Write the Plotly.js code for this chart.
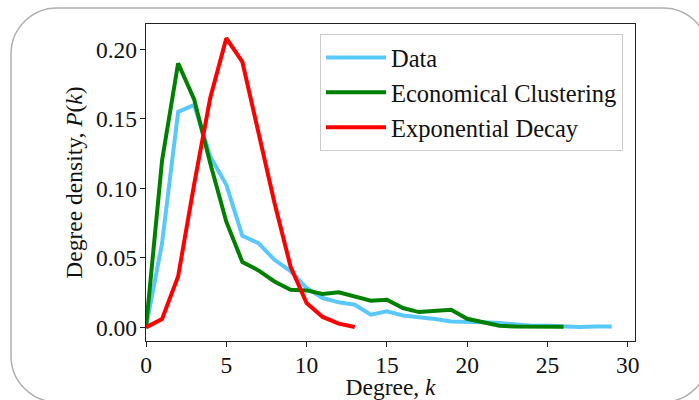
<!DOCTYPE html>
<html>
<head>
<meta charset="utf-8">
<script src="https://cdn.plot.ly/plotly-3.0.1.min.js"></script>
<style>
  html, body { margin: 0; padding: 0; background: #ffffff; }
  #chart { width: 699px; height: 400px; }
</style>
</head>
<body>
<div id="chart"></div>
<script>
// ---- data ----
const kData = [0,1,2,3,4,5,6,7,8,9,10,11,12,13,14,15,16,17,18,19,20,21,22,23,24,25,26,27,28,29];
const pData = [0, 0.0606, 0.155, 0.160, 0.123, 0.1025, 0.0659, 0.0606, 0.0486, 0.0405,
               0.0283, 0.0211, 0.018, 0.0163, 0.0091, 0.0115, 0.0086, 0.0075, 0.006, 0.0043,
               0.0043, 0.0036, 0.0031, 0.002, 0.0012, 0.0012, 0.0007, 0.0003, 0.0007, 0.0007];

const kEcon = [0,1,2,3,4,5,6,7,8,9,10,11,12,13,14,15,16,17,18,19,20,21,22,23,24,25,26];
const pEcon = [0, 0.120, 0.190, 0.164, 0.118, 0.076, 0.047, 0.041, 0.033, 0.027,
               0.0266, 0.024, 0.0252, 0.0223, 0.0192, 0.0199, 0.0139, 0.011, 0.0115, 0.0127,
               0.0062, 0.0036, 0.0012, 0.0006, 0.0004, 0.0004, 0.0005];

const kExp = [0,1,2,3,4,5,6,7,8,9,10,11,12,13];
const pExp = [0, 0.006, 0.0366, 0.103, 0.165, 0.208, 0.191, 0.139, 0.0896, 0.0438,
              0.0175, 0.0075, 0.0027, 0.0003];

const seriesNames = ["Data", "Economical Clustering", "Exponential Decay"];
const seriesColors = ["#5ac8fa", "#008000", "#ff0000"];

const xTitle = "Degree, <i>k</i>";
const yTitle = "Degree density, <i>P</i>(<i>k</i>)";

// ---- layout geometry ----
const W = 699, H = 400;
const M = { l: 146, r: 64, t: 24, b: 59 };
const PW = W - M.l - M.r, PH = H - M.t - M.b;
const px = v => (v - M.l) / PW;
const py = v => (H - M.b - v) / PH;

// rounded frame around the figure (pixel box -> paper coords)
function roundedRectPath(x0, y0, x1, y1, r) {
  const c = 0.5523 * r;
  const P = (x, y) => px(x).toFixed(5) + "," + py(y).toFixed(5);
  return "M" + P(x0 + r, y0) +
    " L" + P(x1 - r, y0) +
    " C" + P(x1 - r + c, y0) + " " + P(x1, y0 + r - c) + " " + P(x1, y0 + r) +
    " L" + P(x1, y1 - r) +
    " C" + P(x1, y1 - r + c) + " " + P(x1 - r + c, y1) + " " + P(x1 - r, y1) +
    " L" + P(x0 + r, y1) +
    " C" + P(x0 + r - c, y1) + " " + P(x0, y1 - r + c) + " " + P(x0, y1 - r) +
    " L" + P(x0, y0 + r) +
    " C" + P(x0, y0 + r - c) + " " + P(x0 + r - c, y0) + " " + P(x0 + r, y0) + " Z";
}

const FONT = "'Liberation Serif', 'Times New Roman', serif";
const FS = 23.5;

const xs = [kData, kEcon, kExp];
const ys = [pData, pEcon, pExp];
const traces = seriesNames.map((name, i) => ({
  x: xs[i], y: ys[i], name: name, type: "scatter", mode: "lines",
  line: { color: seriesColors[i], width: 4, shape: "linear" },
  hoverinfo: "x+y"
}));

const axisCommon = {
  showline: true, linecolor: "#222222", linewidth: 1.2, mirror: true,
  ticks: "outside", ticklen: 5, tickwidth: 1, tickcolor: "#222222",
  showgrid: false, zeroline: false,
  tickfont: { family: FONT, size: FS, color: "#111111" }
};

const layout = {
  width: W, height: H,
  margin: M,
  paper_bgcolor: "#ffffff", plot_bgcolor: "#ffffff",
  font: { family: FONT, size: FS, color: "#111111" },
  showlegend: true,
  xaxis: Object.assign({}, axisCommon, {
    range: [0, 30.45], tick0: 0, dtick: 5,
    ticklabelstandoff: -2,
    title: { text: xTitle, font: { family: FONT, size: FS, color: "#111111" }, standoff: 8 }
  }),
  yaxis: Object.assign({}, axisCommon, {
    range: [-0.0098, 0.2182], tick0: 0, dtick: 0.05, tickformat: ".2f",
    ticklabelstandoff: -2,
    title: { text: yTitle, font: { family: FONT, size: FS, color: "#111111" }, standoff: 6 }
  }),
  legend: {
    x: px(623), xanchor: "right", y: py(34), yanchor: "top",
    bgcolor: "rgba(255,255,255,0.9)", bordercolor: "#cccccc", borderwidth: 1,
    font: { family: FONT, size: 24.5, color: "#111111" },
    traceorder: "normal", itemwidth: 60
  },
  shapes: [{
    type: "path", xref: "paper", yref: "paper", layer: "below",
    path: roundedRectPath(11, 8, 709, 402, 46),
    line: { color: "#b0b0b0", width: 1.5 }, fillcolor: "rgba(0,0,0,0)"
  }]
};

Plotly.newPlot("chart", traces, layout, { displayModeBar: false, staticPlot: true });
</script>
</body>
</html>
